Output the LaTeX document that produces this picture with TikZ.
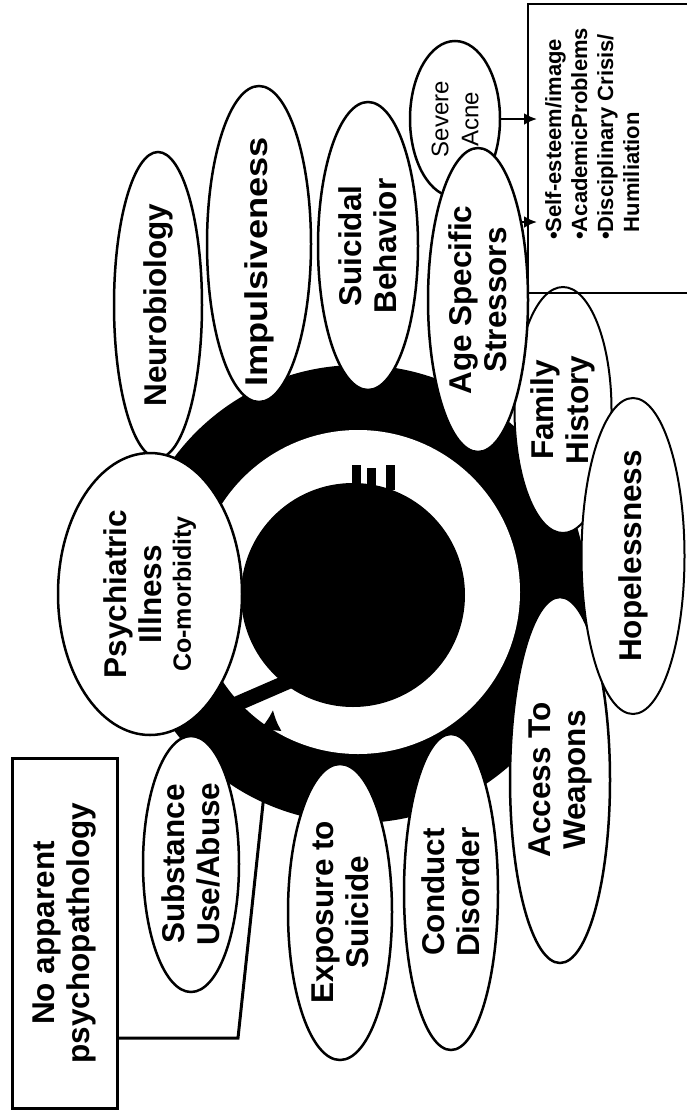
\documentclass[tikz,border=0pt]{standalone}
\usepackage{fontspec}
\usepackage{graphicx}
\setmainfont{Liberation Sans}
\usetikzlibrary{shapes,arrows.meta,positioning,calc}
\pgfdeclarelayer{background}
\pgfsetlayers{background,main}
\tikzset{
	petal/.style={ellipse, draw, fill=white, line width=2.5pt, rotate=90, inner sep=-30pt, align=center, font=\fontsize{31.5}{35}\selectfont\bfseries}, % text runs bottom to top
	petalsize/.style 2 args={minimum width=#1, minimum height=#2}, % along the text, across the text
	framed/.style={draw, line width=3pt, rotate=90, align=center, font=\fontsize{31.5}{35}\selectfont\bfseries},
	band/.style={line width=15pt, shorten >=-6pt},
	feed/.style={line width=2.5pt, -{Latex[length=13pt,width=12pt]}}
}
\begin{document}
\begin{tikzpicture}[x=1pt, y=-1pt]
\useasboundingbox (0,0) rectangle (686,1111);
% petals round the ring
\node[petal, petalsize={306pt}{88pt}] (neuro) at (158,305) {Neurobiology};
\node[petal, inner sep=-45pt, petalsize={316pt}{104pt}] (impulse) at (259,244) {\scalebox{1.15}[1]{Impulsiveness}\hspace*{36pt}};
\node[petal, petalsize={288pt}{100pt}] (suicidal) at (368,246) {Suicidal\\Behavior};
\node[petal, petalsize={156pt}{90pt}, font=\fontsize{24}{30}\selectfont] (acne) at (455,119) {Severe\\Acne};
\node[petal, line width=2pt, petalsize={246pt}{97pt}] (family) at (563,410) {Family\\History};
\node[petal, petalsize={304pt}{100pt}] (stress) at (478,300) {Age Specific\\Stressors};
\node[petal, petalsize={366pt}{100pt}] (access) at (560,780) {Access To\\Weapons};
\node[petal, line width=2pt, petalsize={316pt}{103pt}] (hope) at (633,556) {Hopelessness};
\node[petal, petalsize={316pt}{94pt}] (conduct) at (451,892) {Conduct\\Disorder};
\node[petal, petalsize={296pt}{104pt}] (exposure) at (340,912) {Exposure to\\Suicide};
\node[petal, petalsize={256pt}{96pt}] (substance) at (191,864) {Substance\\Use/Abuse};
\node[petal, petalsize={282pt}{184pt}] (psych) at (150,594) {Psychiatric\\Illness\\[-6pt]{\fontsize{25}{28}\selectfont Co-morbidity}};

% boxes
\node[framed, minimum width=350pt, minimum height=105pt] (nobox) at (64.5,933) {No apparent\\psychopathology};
\node[draw, line width=2pt, minimum width=200pt, minimum height=289pt, anchor=north west, inner sep=0pt] (effectsbox) at (527,3) {};
\node[rotate=90, anchor=north west, align=left, inner sep=8pt, font=\fontsize{22}{26}\selectfont\bfseries] (effects) at (537,248) {•Self-esteem/image\\•AcademicProblems\\•Disciplinary Crisis/\\\phantom{•}Humiliation};

\begin{pgfonlayer}{background}
\fill (358,594) circle (229pt);
\fill[white] (358,592) circle (162pt);
\node[circle, fill, minimum size=224pt, inner sep=0pt] (core) at (353,595) {};
\foreach \x/\t in {352/465, 367/468, 386/465}
	\fill (\x,\t) rectangle ++(8.5,25);
\coordinate (bandfoot) at (195,722);
\draw[band] (bandfoot) -- (core.232);
% stressors to their effects
\coordinate (stressout) at ([yshift=78pt]stress.center);
\draw[feed] (acne.center) -- (acne.center -| effects.north);
\draw[feed] (stressout) -- (stressout -| effects.north);
\end{pgfonlayer}

\coordinate (bend) at (238,1038);
\coordinate (tip) at (273,710);
\draw[line width=3pt, -{Latex[length=20pt,width=22pt]}] (nobox.south |- bend) -- (bend) -- (tip);
\end{tikzpicture}
\end{document}
